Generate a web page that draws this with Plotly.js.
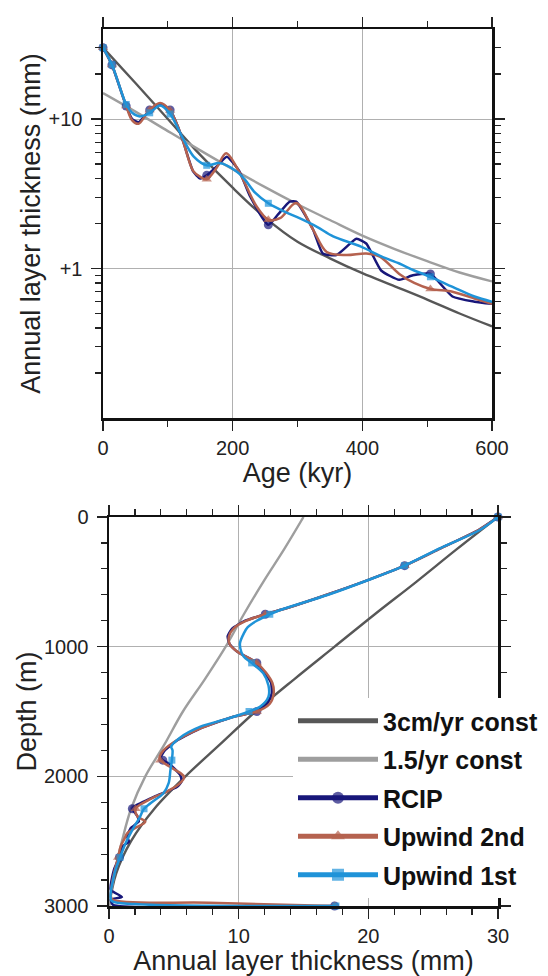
<!DOCTYPE html>
<html>
<head>
<meta charset="utf-8">
<script src="https://cdn.plot.ly/plotly-3.0.1.min.js"></script>
<style>html,body{margin:0;padding:0;background:#fff;}#chart{width:548px;height:976px;}</style>
</head>
<body>
<div id="chart"></div>
<script>
// ---------- Top panel: thickness vs age ----------
const ageRef = [0,50,100,150,200,250,300,350,400,450,500,550,600];
const const3Top = [30,17.4,10,5.75,3.47,2.19,1.51,1.17,0.93,0.76,0.62,0.50,0.41];
const const15Top = [14.9,11.2,8.3,6.17,4.62,3.5,2.69,2.11,1.66,1.35,1.12,0.94,0.82];

const rcipAge = [0,13.8,35.8,45,55,65,72,88,103.5,115,124,139,150,160,175,191,210,227,255,270,288,298,324,339,360,391,406,429,457,478,505,539,573,600];
const rcipTop = [30,23,12.2,10.0,9.5,10.6,11.5,12.6,11.5,9.0,7.0,4.46,4.0,4.2,4.8,5.6,4.5,3.03,1.96,2.3,2.8,2.8,1.82,1.26,1.23,1.58,1.47,0.97,0.84,0.90,0.92,0.65,0.60,0.58];

const up2Age = [0,13.8,35.8,45,55,65,72,88,103.5,115,124,139,150,160,175,190,211,237,255,273,298,324,345,375,406,427,457,480,505,539,573,600];
const up2Top = [30,23,12.2,9.8,9.3,10.5,11.5,12.8,11.4,9.0,7.0,4.5,4.1,3.95,4.7,5.9,4.35,2.6,2.12,2.17,2.74,1.82,1.29,1.23,1.26,1.2,0.92,0.80,0.73,0.70,0.63,0.58];

const up1Age = [0,13.8,35.8,45,57,72,88,103.5,124,140,160,180,206,219,235,255,280,303,330,355,398,430,457,480,505,540,573,600];
const up1Top = [30,23.1,12.5,11.0,10.4,11.0,12.3,10.8,7.3,5.6,4.9,5.07,4.46,3.93,3.2,2.73,2.4,2.17,1.9,1.64,1.40,1.2,1.08,0.97,0.88,0.75,0.65,0.60];

const markerAges = [0,13.8,35.8,72,103.5,160,255,505];

// ---------- Bottom panel: thickness vs depth ----------
const depthRef = [0,250,500,750,1000,1250,1500,1750,2000,2250,2500,2750,3000];
const const3Bot = [30,26.8,23.7,20.5,17.4,14.3,11.3,8.6,5.9,3.5,1.7,0.55,0];
const const15Bot = [15,13.5,11.9,10.4,9.0,7.4,5.7,4.3,2.8,1.7,1.0,0.42,0];

const rcipDepth = [0,100,250,375,500,600,700,750,800,860,920,980,1040,1100,1125,1200,1280,1360,1440,1500,1540,1630,1720,1800,1850,1875,1900,1990,2040,2080,2156,2233,2250,2310,2348,2400,2464,2503,2541,2625,2721,2875,2930,2950,2990,3000];
const rcipBot = [30,28.5,25.4,22.8,19.6,16.8,13.8,12.05,10.5,9.5,9.15,9.3,9.9,11.0,11.4,12.0,12.5,12.55,12.2,11.4,9.6,7.05,5.3,4.3,4.0,4.15,4.6,5.5,5.6,5.26,3.5,1.92,1.8,2.2,2.3,1.67,1.4,1.54,1.03,0.8,0.38,0.13,1.0,0.15,0.3,17.4];

const up2Depth = [0,100,250,375,500,600,700,750,800,860,920,980,1040,1100,1125,1200,1280,1360,1440,1500,1540,1630,1720,1800,1850,1875,1920,1975,2005,2060,2120,2180,2250,2310,2350,2400,2440,2480,2540,2625,2750,2850,2910,2950,2975,3000];
const up2Bot = [30,28.5,25.4,22.8,19.6,16.8,13.8,12.05,10.6,9.6,9.25,9.3,9.9,11.0,11.4,12.1,12.6,12.7,12.4,11.4,9.6,7.05,5.26,4.2,3.9,3.95,4.6,5.5,5.8,5.4,4.4,3.1,2.05,2.2,2.8,2.0,1.4,1.2,0.9,0.7,0.38,0.2,0.13,0.25,7.7,17.4];

const up1Depth = [0,100,242,375,486,600,717,750,800,850,897,974,1040,1077,1125,1205,1300,1385,1462,1500,1560,1617,1700,1771,1800,1875,1950,2053,2130,2207,2250,2310,2413,2516,2625,2721,2824,2901,2960,2985,3000];
const up1Bot = [30,28.6,25.5,22.8,20.0,16.9,13.2,12.4,11.4,10.7,10.4,10.1,10.2,10.4,11.0,11.9,12.3,12.3,11.67,10.8,9.0,7.05,5.5,4.8,4.9,4.85,4.74,4.6,4.2,3.2,2.7,2.4,1.8,1.28,0.85,0.5,0.26,0.13,0.2,2.0,17.5];

const markerDepths = [0,375,750,1125,1500,1875,2250,2625,3000];

const seriesNames = ['3cm/yr const','1.5/yr const','RCIP','Upwind 2nd','Upwind 1st'];
const yTopTickVals = [1,10];
const yTopTickText = ['+1','+10'];
const yTopMinor = [0.2,0.3,0.4,0.5,0.6,0.7,0.8,0.9,2,3,4,5,6,7,8,9,20,30];

// ---------- styles ----------
const C = {dark:'#575757', light:'#9e9e9e', rcip:'#18177a', up2:'#b5624f', up1:'#1f93d8'};
const sizes = (xs, marks, s) => xs.map(v => marks.includes(v) ? s : 0);

function series(x, y, name, color, sym, msize, marks, axes, show, shape, smooth) {
  return {
    type:'scatter', mode:'lines+markers', x:x, y:y, name:name,
    xaxis:axes[0], yaxis:axes[1], showlegend:show, legendgroup:name, cliponaxis:false,
    line:{color:color, width:2.5, shape:shape, smoothing:smooth},
    marker:{color:color, symbol:sym, size:sizes(axes[0]==='x'?x:y, marks, msize), line:{width:0}}
  };
}
function ref(x, y, name, color, axes, show) {
  return {type:'scatter', mode:'lines', x:x, y:y, name:name, xaxis:axes[0], yaxis:axes[1],
    showlegend:show, legendgroup:name, line:{color:color, width:2.4, shape:'spline'}, hoverinfo:'skip'};
}

const T = ['x','y'], B = ['x2','y2'];
const traces = [
  ref(ageRef, const3Top, seriesNames[0], C.dark, T, false),
  ref(ageRef, const15Top, seriesNames[1], C.light, T, false),
  series(rcipAge, rcipTop, seriesNames[2], C.rcip, 'circle', 9, markerAges, T, false, 'spline', 0.5),
  series(up2Age, up2Top, seriesNames[3], C.up2, 'triangle-up', 9, markerAges, T, false, 'spline', 0.9),
  series(up1Age, up1Top, seriesNames[4], C.up1, 'square', 7, markerAges, T, false, 'spline', 0.9),
  ref(const3Bot, depthRef, seriesNames[0], C.dark, B, true),
  ref(const15Bot, depthRef, seriesNames[1], C.light, B, true),
  series(rcipBot, rcipDepth, seriesNames[2], C.rcip, 'circle', 9, markerDepths, B, true, 'spline', 0.5),
  series(up2Bot, up2Depth, seriesNames[3], C.up2, 'triangle-up', 9, markerDepths, B, true, 'spline', 0.9),
  series(up1Bot, up1Depth, seriesNames[4], C.up1, 'square', 7, markerDepths, B, true, 'spline', 0.9)
];

const W = 548, H = 976;
const tickFont = {size:20, color:'#222'};
const titleFont = {size:27, color:'#222'};
const axisCommon = {
  showline:true, linecolor:'#111', linewidth:2.5, mirror:'ticks',
  ticks:'outside', ticklen:10, tickwidth:1.2, tickcolor:'#222',
  showgrid:true, gridcolor:'#b0b0b0', gridwidth:1, zeroline:false,
  tickfont:tickFont
};
const layout = {
  width:W, height:H, margin:{l:0,r:0,t:0,b:0},
  paper_bgcolor:'#fff', plot_bgcolor:'#fff',
  font:{family:'Liberation Sans, Arial, sans-serif', color:'#222'},
  showlegend:true,
  xaxis: Object.assign({}, axisCommon, {
    domain:[103/W, 492/W], range:[0,600], anchor:'y', tick0:0, dtick:200, ticklabelstandoff:0,
    minor:{dtick:100, ticks:'outside', ticklen:6, tickwidth:1.2, tickcolor:'#222'},
    title:{text:'Age (kyr)', font:titleFont, standoff:2}
  }),
  yaxis: Object.assign({}, axisCommon, {
    domain:[1-418/H, 1-29/H], type:'log', range:[-1, Math.log10(40)], anchor:'x',
    tickmode:'array', tickvals:yTopTickVals, ticktext:yTopTickText, ticklabelstandoff:4,
    minor:{tickmode:'array', tickvals:yTopMinor, ticks:'outside', ticklen:6, tickwidth:1.2, tickcolor:'#222', showgrid:false},
    title:{text:'Annual layer thickness (mm)', font:titleFont, standoff:0}
  }),
  xaxis2: Object.assign({}, axisCommon, {
    domain:[109/W, 498/W], range:[0,30], anchor:'y2', tick0:0, dtick:10, ticklabelstandoff:0,
    minor:{dtick:2, ticks:'outside', ticklen:6, tickwidth:1.2, tickcolor:'#222'},
    title:{text:'Annual layer thickness (mm)', font:titleFont, standoff:2}
  }),
  yaxis2: Object.assign({}, axisCommon, {
    domain:[1-906/H, 1-517/H], range:[3000,0], anchor:'x2', tick0:0, dtick:1000, ticklabelstandoff:4,
    minor:{dtick:200, ticks:'outside', ticklen:6, tickwidth:1.2, tickcolor:'#222'},
    title:{text:'Depth (m)', font:titleFont, standoff:0}
  }),
  legend:{
    x:293/W, y:1-698/H, xanchor:'left', yanchor:'top',
    bgcolor:'#fff', borderwidth:0, traceorder:'grouped', tracegroupgap:3,
    itemsizing:'constant', itemwidth:80,
    font:{family:'Liberation Sans, Arial, sans-serif', size:25, color:'#111', weight:'bold'}
  }
};

Plotly.newPlot('chart', traces, layout, {staticPlot:true, displayModeBar:false});
</script>
</body>
</html>
